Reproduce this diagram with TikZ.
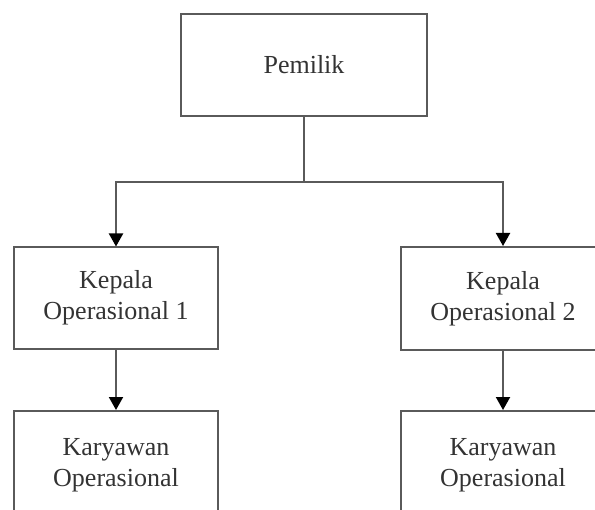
\documentclass[tikz,border=0pt]{standalone}
\usepackage{fontspec}
\setmainfont{Liberation Serif}
\usetikzlibrary{arrows.meta}
\definecolor{linegray}{HTML}{5A5A5A}
\definecolor{textgray}{HTML}{333333}
\begin{document}
\begin{tikzpicture}[x=1bp,y=-1bp,
  box/.style={draw=linegray, line width=2bp, fill=white, align=center,
    text=textgray, font=\fontsize{26bp}{31bp}\selectfont, inner sep=0pt},
  conn/.style={draw=linegray, line width=2bp},
  arr/.style={conn, -{Triangle[width=14bp,length=13bp,color=black]}}]
\useasboundingbox (0,0) rectangle (595,510);
\node[box, minimum width=246bp, minimum height=102bp] (pem) at (304,65) {Pemilik};
\node[box, minimum width=204bp, minimum height=101bp] (k1) at (116,298) {Kepala\\Operasional 1};
\node[box, minimum width=204bp, minimum height=103bp] (k2) at (503,298.5) {Kepala\\Operasional 2};
\node[box, minimum width=204bp, minimum height=108bp] (y1) at (116,465) {Karyawan\\Operasional};
\node[box, minimum width=204bp, minimum height=108bp] (y2) at (503,465) {Karyawan\\Operasional};
\coordinate (j) at (304,182);
\draw[conn] (pem.south) -- (j);
\draw[arr] (j) -| (k1.north);
\draw[arr] (j) -| (k2.north);
\draw[arr] (k1.south) -- (y1.north);
\draw[arr] (k2.south) -- (y2.north);
\end{tikzpicture}
\end{document}
